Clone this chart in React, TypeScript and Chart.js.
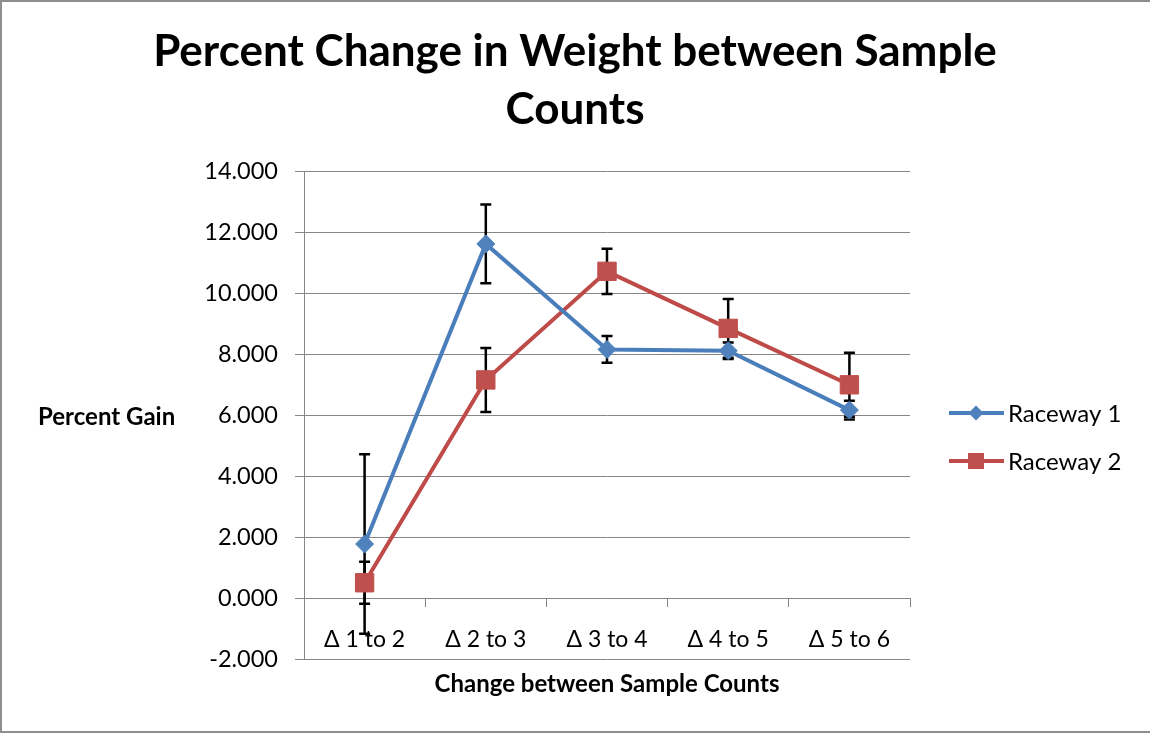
import React, { useEffect, useRef } from "react";
import { Chart, registerables } from "chart.js";

Chart.register(...registerables);

const titleLines = ["Percent Change in Weight between Sample", "Counts"];
const xAxisTitle = "Change between Sample Counts";
const yAxisTitle = "Percent Gain";

const categories = ["Δ 1 to 2", "Δ 2 to 3", "Δ 3 to 4", "Δ 4 to 5", "Δ 5 to 6"];
const raceway1 = [1.77, 11.61, 8.15, 8.11, 6.16];
const raceway1Err = [2.94, 1.29, 0.44, 0.27, 0.31];
const raceway2 = [0.5, 7.15, 10.71, 8.84, 6.99];
const raceway2Err = [0.69, 1.05, 0.74, 0.96, 1.05];

const yMin = -2;
const yMax = 14;
const yStep = 2;

const FONT = 'Lato, "Noto Sans", "DejaVu Sans", sans-serif';
const GRID = "#868686";

const errorBarPlugin = {
  id: "errorBars",
  beforeDatasetsDraw(chart: any) {
    const { ctx } = chart;
    const y = chart.scales.y;
    ctx.save();
    ctx.strokeStyle = "#000";
    ctx.lineWidth = 2.5;
    chart.data.datasets.forEach((ds: any, i: number) => {
      const errs = ds.errors as number[] | undefined;
      if (!errs) return;
      const meta = chart.getDatasetMeta(i);
      meta.data.forEach((pt: any, j: number) => {
        const v = ds.data[j] as number;
        const e = errs[j];
        const px = pt.x;
        const yT = y.getPixelForValue(v + e);
        const yB = y.getPixelForValue(v - e);
        ctx.beginPath();
        ctx.moveTo(px, yT);
        ctx.lineTo(px, yB);
        ctx.moveTo(px - 5.5, yT);
        ctx.lineTo(px + 5.5, yT);
        ctx.moveTo(px - 5.5, yB);
        ctx.lineTo(px + 5.5, yB);
        ctx.stroke();
      });
    });
    ctx.restore();
  },
};

const decorPlugin = {
  id: "decor",
  afterDraw(chart: any) {
    const { ctx, width, height } = chart;
    ctx.save();
    // outer frame
    ctx.fillStyle = "#8e8e8e";
    ctx.fillRect(0, 0, width, 2);
    ctx.fillRect(0, 0, 2, height);
    ctx.fillRect(0, height - 2, width, 2);

    // horizontal y-axis title
    ctx.fillStyle = "#000";
    ctx.font = `bold 24px ${FONT}`;
    ctx.textAlign = "left";
    ctx.textBaseline = "middle";
    ctx.fillText(yAxisTitle, 38, 417);

    // legend
    chart.data.datasets.forEach((ds: any, i: number) => {
      const yy = 413 + i * 48;
      ctx.strokeStyle = ds.borderColor;
      ctx.lineWidth = 4;
      ctx.beginPath();
      ctx.moveTo(949, yy);
      ctx.lineTo(1004, yy);
      ctx.stroke();
      ctx.fillStyle = ds.backgroundColor;
      if (ds.pointStyle === "rectRot") {
        ctx.beginPath();
        ctx.moveTo(976, yy - 7.5);
        ctx.lineTo(983.5, yy);
        ctx.lineTo(976, yy + 7.5);
        ctx.lineTo(968.5, yy);
        ctx.closePath();
        ctx.fill();
      } else {
        ctx.fillRect(968, yy - 8, 16, 16);
      }
      ctx.fillStyle = "#000";
      ctx.font = `24px ${FONT}`;
      ctx.textAlign = "left";
      ctx.textBaseline = "middle";
      ctx.fillText(ds.label, 1008, yy + 1);
    });
    ctx.restore();
  },
};

export default function App() {
  const canvasRef = useRef<HTMLCanvasElement | null>(null);

  useEffect(() => {
    if (!canvasRef.current) return;
    const chart = new Chart(canvasRef.current, {
      type: "line",
      data: {
        labels: categories,
        datasets: [
          {
            label: "Raceway 1",
            data: raceway1,
            errors: raceway1Err,
            borderColor: "#4A7EBB",
            backgroundColor: "#4F81BD",
            pointBackgroundColor: "#4F81BD",
            pointBorderColor: "#4F81BD",
            pointStyle: "rectRot",
            pointRadius: 9,
            pointBorderWidth: 1,
            borderWidth: 4,
            tension: 0,
          } as any,
          {
            label: "Raceway 2",
            data: raceway2,
            errors: raceway2Err,
            borderColor: "#BE4B48",
            backgroundColor: "#C0504D",
            pointBackgroundColor: "#C0504D",
            pointBorderColor: "#C0504D",
            pointStyle: "rect",
            pointRadius: 13,
            pointBorderWidth: 1,
            borderWidth: 4,
            tension: 0,
          } as any,
        ],
      },
      options: {
        animation: false,
        responsive: true,
        maintainAspectRatio: false,
        devicePixelRatio: 1,
        layout: { padding: { left: 0, right: 0, top: 0, bottom: 74 } },
        plugins: {
          legend: { display: false },
          tooltip: { enabled: false },
          title: {
            display: true,
            text: titleLines,
            color: "#000",
            font: { family: FONT, size: 44, weight: "bold", lineHeight: 58 / 44 },
            padding: { top: 23, bottom: 32 },
          },
        },
        scales: {
          x: {
            type: "category",
            position: { y: 0 } as any,
            offset: true,
            grid: {
              drawOnChartArea: false,
              offset: true,
              tickLength: 8,
              color: GRID,
              lineWidth: 1,
            },
            border: { display: true, color: GRID, width: 1 },
            ticks: {
              color: "#000",
              font: { family: FONT, size: 23 },
              padding: 20,
              maxRotation: 0,
              autoSkip: false,
            },
            title: {
              display: true,
              text: xAxisTitle,
              color: "#000",
              font: { family: FONT, size: 24, weight: "bold" },
              padding: { top: -4, bottom: 0 },
            },
          },
          y: {
            min: yMin,
            max: yMax,
            ticks: {
              stepSize: yStep,
              color: "#000",
              font: { family: FONT, size: 23.5 },
              padding: 17,
              callback: (v: any) => Number(v).toFixed(3),
            },
            grid: { color: GRID, tickLength: 9, lineWidth: 1 },
            border: { display: true, color: GRID, width: 1 },
            afterFit: (scale: any) => {
              scale.width = 304;
            },
          },
          legendSpace: {
            type: "linear",
            axis: "y",
            position: "right",
            display: true,
            grid: { display: false, drawTicks: false },
            border: { display: false },
            ticks: { display: false },
            afterFit: (scale: any) => {
              scale.width = 240;
            },
          },
        },
      } as any,
      plugins: [errorBarPlugin, decorPlugin],
    });
    return () => chart.destroy();
  }, []);

  return (
    <div
      style={{
        position: "fixed",
        left: 0,
        top: 0,
        width: 1150,
        height: 733,
        background: "#fff",
      }}
    >
      <canvas ref={canvasRef} />
    </div>
  );
}
